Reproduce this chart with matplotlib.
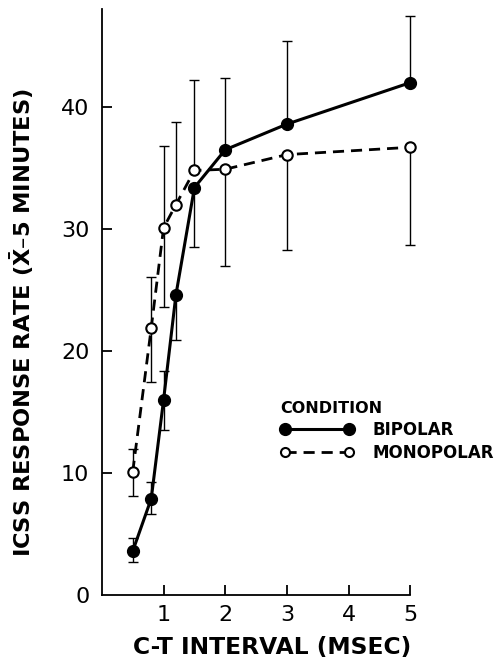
import matplotlib.pyplot as plt
import numpy as np

plt.rcParams['mathtext.fontset'] = 'dejavusans'

# C-T interval (msec)
intervals = [0.5, 0.8, 1.0, 1.2, 1.5, 2, 3, 5]

# mean responses per 5 minutes, with error bars (only the visible side drawn)
bipolar = [3.6, 7.9, 16.0, 24.6, 33.4, 36.5, 38.6, 42.0]
bipolar_lo = [0.9, 1.3, 2.5, 3.7, 4.9, 0, 0, 0]
bipolar_hi = [1.1, 1.4, 2.4, 0, 0, 5.9, 6.8, 5.5]

monopolar = [10.1, 21.9, 30.1, 32.0, 34.8, 34.9, 36.1, 36.7]
monopolar_lo = [2.0, 4.4, 6.5, 0, 0, 7.9, 7.8, 8.0]
monopolar_hi = [1.9, 4.2, 6.7, 6.8, 7.4, 0, 0, 0]

fig = plt.figure(figsize=(5.01, 6.59), dpi=100)
ax = fig.add_axes([0.2034, 0.0971, 0.6156, 0.8886])

# error bars first, thin lines with caps
for vals, lo, hi in [(bipolar, bipolar_lo, bipolar_hi),
                     (monopolar, monopolar_lo, monopolar_hi)]:
    eb = ax.errorbar(intervals, vals, yerr=[lo, hi], fmt='none',
                     ecolor='black', elinewidth=1.0, capsize=3.8,
                     capthick=1.0, zorder=2)
    for art in eb.lines[1] + eb.lines[2]:
        art.set_clip_on(False)

ax.plot(intervals, bipolar, '-', color='black', lw=2.2, marker='o', ms=8.5,
        mfc='black', mec='black', label='BIPOLAR', zorder=3, clip_on=False)
ax.plot(intervals, monopolar, '--', color='black', lw=2.0, dashes=(4, 2.5),
        marker='o', ms=7.5, mfc='white', mec='black', mew=1.5,
        label='MONOPOLAR', zorder=4, clip_on=False)

ax.set_xlim(0, 5)
ax.set_ylim(0, 48)
ax.set_xticks([1, 2, 3, 4, 5])
ax.set_yticks([0, 10, 20, 30, 40])

for s in ['top', 'right']:
    ax.spines[s].set_visible(False)
for s in ['left', 'bottom']:
    ax.spines[s].set_linewidth(1.3)

ax.tick_params(direction='in', length=7, width=1.3, labelsize=16)
ax.tick_params(axis='x', pad=7)
ax.tick_params(axis='y', pad=9)
ax.yaxis.get_major_ticks()[0].tick1line.set_visible(False)

ax.set_xlabel('C-T INTERVAL (MSEC)', fontsize=16.8, fontweight='bold')
ax.set_ylabel(r'ICSS RESPONSE RATE ($\mathbf{\bar{X}}$' + '\u20135 MINUTES)',
              fontsize=16.2, fontweight='bold')
ax.xaxis.set_label_coords(0.552, -0.07)
ax.yaxis.set_label_coords(-0.215, 0.465)

leg = ax.legend(title='CONDITION', loc='upper left', bbox_to_anchor=(0.53, 0.357),
                frameon=False, numpoints=2, handlelength=4.4, handletextpad=1.1,
                labelspacing=0.3, prop={'weight': 'bold', 'size': 12},
                alignment='left')
leg.get_title().set_fontweight('bold')
leg.get_title().set_fontsize(11.5)
leg.legend_handles[1].set_markersize(6.5)

plt.savefig('out.png', dpi=100)
